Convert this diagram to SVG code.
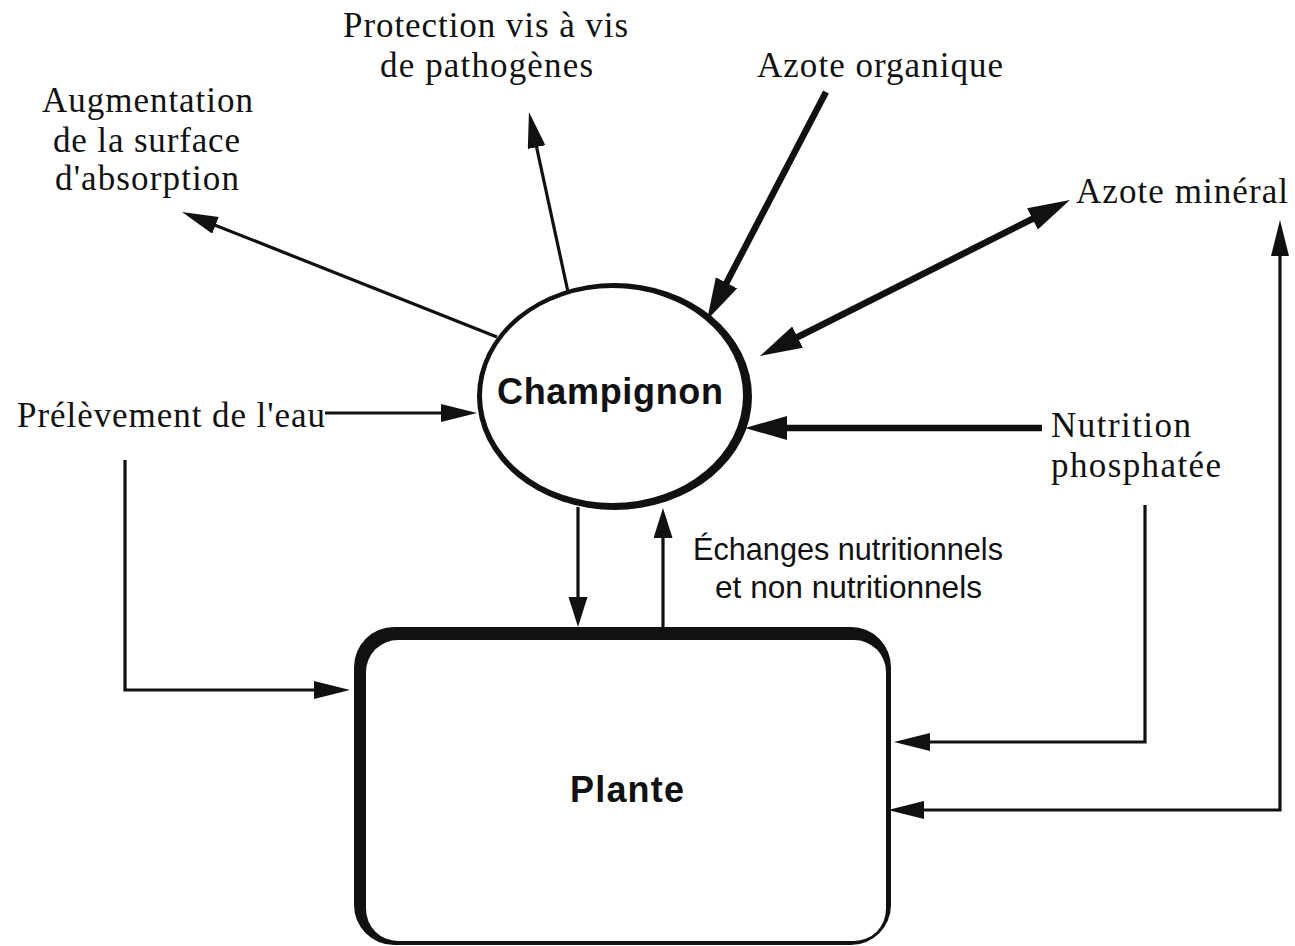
<svg xmlns="http://www.w3.org/2000/svg" width="1295" height="946" viewBox="0 0 1295 946">
<style>
.serif{font-family:"Liberation Serif","Times New Roman",serif;font-size:35px;fill:#111}
.bold{font-family:"Liberation Sans",Arial,sans-serif;font-weight:bold;font-size:36px;fill:#111}
.sans{font-family:"Liberation Sans",Arial,sans-serif;font-size:32px;fill:#111}
.thin{fill:none;stroke:#111;stroke-width:3.2}
.thick{fill:none;stroke:#111;stroke-width:6.5}
</style>
<defs>
<marker id="a" markerUnits="userSpaceOnUse" markerWidth="40" markerHeight="20" refX="16" refY="9" orient="auto-start-reverse"><path d="M0,0 L36,9 L0,18 z" fill="#111"/></marker>
<marker id="s" markerUnits="userSpaceOnUse" markerWidth="34" markerHeight="20" refX="10" refY="9.5" orient="auto-start-reverse"><path d="M0,0 L30,9.5 L0,19 z" fill="#111"/></marker>
<marker id="b" markerUnits="userSpaceOnUse" markerWidth="46" markerHeight="26" refX="22" refY="12" orient="auto-start-reverse"><path d="M0,0 L42,12 L0,24 z" fill="#111"/></marker>
</defs>
<rect width="1295" height="946" fill="#fff"/>

<g id="connectors">
<line class="thin" x1="497" y1="337" x2="200.6" y2="219.4" marker-end="url(#a)"/>
<line class="thin" x1="568" y1="292" x2="533.2" y2="131.5" marker-end="url(#a)"/>
<line class="thick" x1="826" y1="92" x2="716.3" y2="302.3" marker-end="url(#b)"/>
<line class="thick" x1="777.9" y1="347" x2="1052.1" y2="209" marker-start="url(#b)" marker-end="url(#b)"/>
<line class="thick" x1="1042" y1="428" x2="765" y2="428" marker-end="url(#b)"/>
<line class="thin" x1="325" y1="413" x2="457" y2="413" marker-end="url(#a)"/>
<path class="thin" d="M125,460 V690 H330" marker-end="url(#a)"/>
<path class="thin" d="M1145,505 V742 H914" marker-end="url(#a)"/>
<path class="thin" d="M908,810 H1280 V240" marker-start="url(#a)" marker-end="url(#a)"/>
<line class="thin" x1="578" y1="507" x2="578" y2="607" marker-end="url(#s)"/>
<line class="thin" x1="663" y1="627" x2="663" y2="528" marker-end="url(#s)"/>
</g>

<g id="champignon">
<ellipse cx="614.5" cy="396.5" rx="137.5" ry="113.5" fill="#111"/>
<ellipse cx="612.5" cy="395.5" rx="130.5" ry="107.5" fill="#fff"/>
<text class="bold" x="610" y="404" text-anchor="middle" textLength="226">Champignon</text>
</g>

<g id="plante">
<rect x="354" y="627" width="537" height="318" rx="40" fill="#111"/>
<rect x="366" y="640" width="520" height="301" rx="32" fill="#fff"/>
<text class="bold" x="627" y="802" text-anchor="middle" textLength="114">Plante</text>
</g>

<g id="augmentation">
<text class="serif" x="147.5" y="112" text-anchor="middle" textLength="211">Augmentation</text>
<text class="serif" x="146.5" y="152" text-anchor="middle" textLength="187">de la surface</text>
<text class="serif" x="147" y="190" text-anchor="middle" textLength="184">d'absorption</text>
</g>

<g id="protection">
<text class="serif" x="485.5" y="37" text-anchor="middle" textLength="285">Protection vis à vis</text>
<text class="serif" x="486.5" y="77" text-anchor="middle" textLength="213">de pathogènes</text>
</g>

<g id="azote-organique">
<text class="serif" x="880" y="77" text-anchor="middle" textLength="246">Azote organique</text>
</g>

<g id="azote-mineral">
<text class="serif" x="1182" y="203" text-anchor="middle" textLength="212">Azote minéral</text>
</g>

<g id="prelevement">
<text class="serif" x="17" y="427" textLength="308">Prélèvement de l'eau</text>
</g>

<g id="nutrition">
<text class="serif" x="1051" y="437" textLength="140">Nutrition</text>
<text class="serif" x="1051" y="477" textLength="170">phosphatée</text>
</g>

<g id="echanges">
<text class="sans" x="848" y="560" text-anchor="middle" textLength="310" lengthAdjust="spacingAndGlyphs">Échanges nutritionnels</text>
<text class="sans" x="848.5" y="598" text-anchor="middle" textLength="267" lengthAdjust="spacingAndGlyphs">et non nutritionnels</text>
</g>
</svg>
